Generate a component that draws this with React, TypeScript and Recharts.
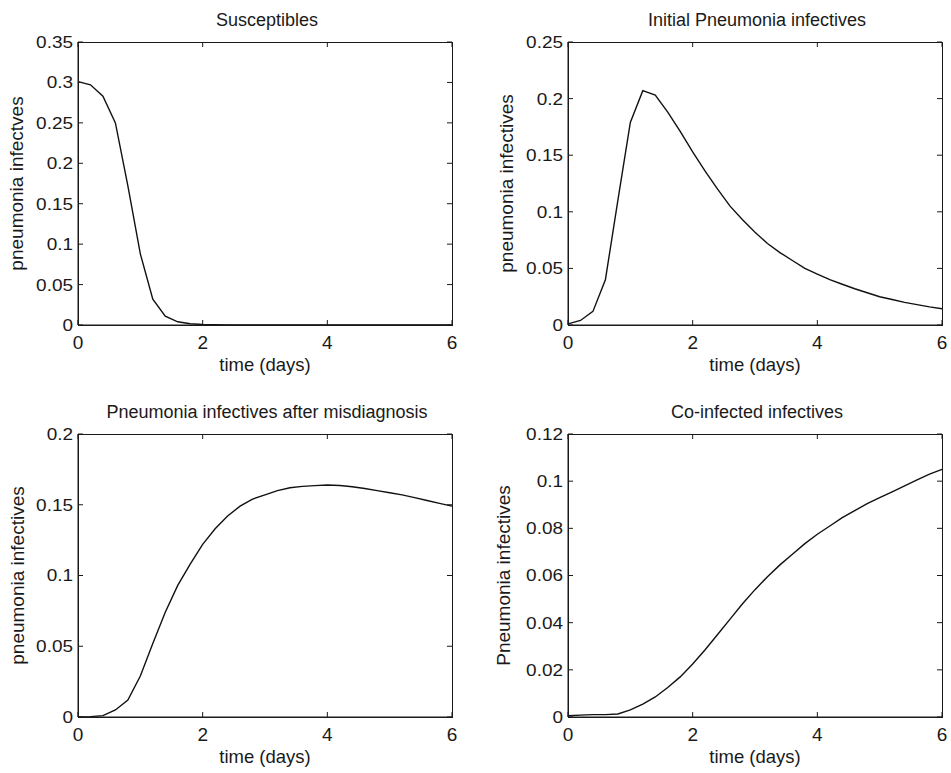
import React from 'react';
import { LineChart, Line, XAxis, YAxis } from 'recharts';

const TIME = [0, 0.2, 0.4, 0.6, 0.8, 1.0, 1.2, 1.4, 1.6, 1.8, 2.0, 2.2, 2.4, 2.6, 2.8, 3.0, 3.2, 3.4, 3.6, 3.8, 4.0, 4.2, 4.4, 4.6, 4.8, 5.0, 5.2, 5.4, 5.6, 5.8, 6.0];

const SUSCEPTIBLES = [0.301, 0.297, 0.283, 0.25, 0.172, 0.088, 0.032, 0.011, 0.004, 0.0015, 0.0006, 0.0003, 0.0001, 0, 0, 0, 0, 0, 0, 0, 0, 0, 0, 0, 0, 0, 0, 0, 0, 0, 0];
const INITIAL_PNEUMONIA = [0.001, 0.004, 0.012, 0.04, 0.11, 0.179, 0.207, 0.203, 0.188, 0.171, 0.153, 0.136, 0.12, 0.105, 0.093, 0.082, 0.072, 0.064, 0.057, 0.05, 0.045, 0.04, 0.036, 0.032, 0.0285, 0.025, 0.0225, 0.02, 0.018, 0.016, 0.0143];
const AFTER_MISDIAGNOSIS = [0, 0.0003, 0.001, 0.005, 0.012, 0.029, 0.052, 0.074, 0.093, 0.108, 0.122, 0.133, 0.142, 0.149, 0.154, 0.157, 0.16, 0.162, 0.163, 0.1635, 0.164, 0.1636, 0.1627, 0.1615, 0.16, 0.1585, 0.157, 0.155, 0.153, 0.151, 0.149];
const CO_INFECTED = [0.0005, 0.0008, 0.001, 0.001, 0.0013, 0.003, 0.0055, 0.0085, 0.0125, 0.017, 0.0225, 0.0285, 0.035, 0.0415, 0.048, 0.054, 0.0595, 0.0645, 0.069, 0.0735, 0.0775, 0.081, 0.0845, 0.0875, 0.0905, 0.093, 0.0955, 0.098, 0.1005, 0.103, 0.105];

const X_TICKS = [0, 2, 4, 6];
const Y_TICKS_S = [0, 0.05, 0.1, 0.15, 0.2, 0.25, 0.3, 0.35];
const Y_TICKS_I = [0, 0.05, 0.1, 0.15, 0.2, 0.25];
const Y_TICKS_M = [0, 0.05, 0.1, 0.15, 0.2];
const Y_TICKS_C = [0, 0.02, 0.04, 0.06, 0.08, 0.1, 0.12];

const TITLES = ['Susceptibles', 'Initial Pneumonia infectives', 'Pneumonia infectives after misdiagnosis', 'Co-infected infectives'];
const Y_LABELS = ['pneumonia infectves', 'pneumonia infectives', 'pneumonia infectives', 'Pneumonia infectives'];
const X_LABEL = 'time (days)';

const FONT = '"Liberation Sans", Arial, Helvetica, sans-serif';
const INK = '#1a1a1a';
const PLOT_W = 374;
const PLOT_H = 283;
const M_LEFT = 80;
const M_TOP = 42;
const M_RIGHT = 15;
const M_BOTTOM = 60;

const makeRows = (vals: number[]) => TIME.map((t, i) => ({ t, v: vals[i] }));

const BottomTick = (props: any) => {
  const { x, y, payload } = props;
  return (
    <g>
      <line x1={x} x2={x} y1={y} y2={y - 5} stroke={INK} strokeWidth={1} />
      <line x1={x} x2={x} y1={y - PLOT_H} y2={y - PLOT_H + 5} stroke={INK} strokeWidth={1} />
      <text x={x} y={y + 24} textAnchor="middle" fontSize={19} fill={INK} fontFamily={FONT}>
        {String(payload.value)}
      </text>
    </g>
  );
};

const LeftTick = (props: any) => {
  const { x, y, payload } = props;
  return (
    <g>
      <line x1={x} x2={x + 5} y1={y} y2={y} stroke={INK} strokeWidth={1} />
      <line x1={x + PLOT_W} x2={x + PLOT_W - 5} y1={y} y2={y} stroke={INK} strokeWidth={1} />
      <text
        transform={`translate(${x - 5},${y}) scale(1.15,1)`}
        x={0}
        y={0}
        dy="0.36em"
        textAnchor="end"
        fontSize={16.5}
        fill={INK}
        fontFamily={FONT}
      >
        {String(payload.value)}
      </text>
    </g>
  );
};

type PanelProps = {
  plotLeft: number;
  plotTop: number;
  values: number[];
  yTicks: number[];
};

const Panel = ({ plotLeft, plotTop, values, yTicks }: PanelProps) => {
  const yMax = yTicks[yTicks.length - 1];
  const data = makeRows(values);
  return (
    <div style={{ position: 'absolute', left: plotLeft - M_LEFT, top: plotTop - M_TOP }}>
      <LineChart
        width={PLOT_W + M_LEFT + M_RIGHT}
        height={PLOT_H + M_TOP + M_BOTTOM}
        data={data}
        margin={{ top: M_TOP, right: M_RIGHT, bottom: 0, left: 0 }}
      >
        <XAxis
          dataKey="t"
          type="number"
          domain={[0, 6]}
          ticks={X_TICKS}
          interval={0}
          height={M_BOTTOM}
          tickSize={0}
          tickMargin={0}
          tick={<BottomTick />}
          axisLine={{ stroke: INK, strokeWidth: 1 }}
          tickLine={false}
        />
        <YAxis
          type="number"
          domain={[0, yMax]}
          ticks={yTicks}
          interval={0}
          width={M_LEFT}
          tickSize={0}
          tickMargin={0}
          tick={<LeftTick />}
          axisLine={{ stroke: INK, strokeWidth: 1 }}
          tickLine={false}
        />
        <Line
          type="linear"
          dataKey="v"
          stroke="#111"
          strokeWidth={1.4}
          dot={false}
          activeDot={false}
          isAnimationActive={false}
        />
      </LineChart>
    </div>
  );
};

const PANELS = [
  { plotLeft: 78, plotTop: 42, values: SUSCEPTIBLES, yTicks: Y_TICKS_S, labelCx: 18 },
  { plotLeft: 568, plotTop: 42, values: INITIAL_PNEUMONIA, yTicks: Y_TICKS_I, labelCx: 508 },
  { plotLeft: 78, plotTop: 434, values: AFTER_MISDIAGNOSIS, yTicks: Y_TICKS_M, labelCx: 19 },
  { plotLeft: 568, plotTop: 434, values: CO_INFECTED, yTicks: Y_TICKS_C, labelCx: 505 },
];

export default function App() {
  return (
    <div
      style={{
        position: 'absolute',
        left: 0,
        top: 0,
        width: 951,
        height: 773,
        background: '#ffffff',
        overflow: 'hidden',
        fontFamily: FONT,
      }}
    >
      {PANELS.map((p, i) => (
        <Panel key={i} plotLeft={p.plotLeft} plotTop={p.plotTop} values={p.values} yTicks={p.yTicks} />
      ))}
      <svg
        width={951}
        height={773}
        style={{ position: 'absolute', left: 0, top: 0, pointerEvents: 'none' }}
      >
        {PANELS.map((p, i) => {
          const cx = p.plotLeft + PLOT_W / 2;
          const cy = p.plotTop + PLOT_H / 2;
          const bx = p.labelCx + 5;
          return (
            <g key={i} fontFamily={FONT} fill={INK}>
              <rect
                x={p.plotLeft + 0.5}
                y={p.plotTop + 0.5}
                width={PLOT_W}
                height={PLOT_H}
                fill="none"
                stroke={INK}
                strokeWidth={1}
              />
              <text x={cx + 2} y={p.plotTop - 16} textAnchor="middle" fontSize={18}>
                {TITLES[i]}
              </text>
              <text x={cx} y={p.plotTop + PLOT_H + 46} textAnchor="middle" fontSize={18.5}>
                {X_LABEL}
              </text>
              <text
                transform={`translate(${bx},${cy}) rotate(-90)`}
                x={0}
                y={0}
                textAnchor="middle"
                fontSize={19}
              >
                {Y_LABELS[i]}
              </text>
            </g>
          );
        })}
      </svg>
    </div>
  );
}
